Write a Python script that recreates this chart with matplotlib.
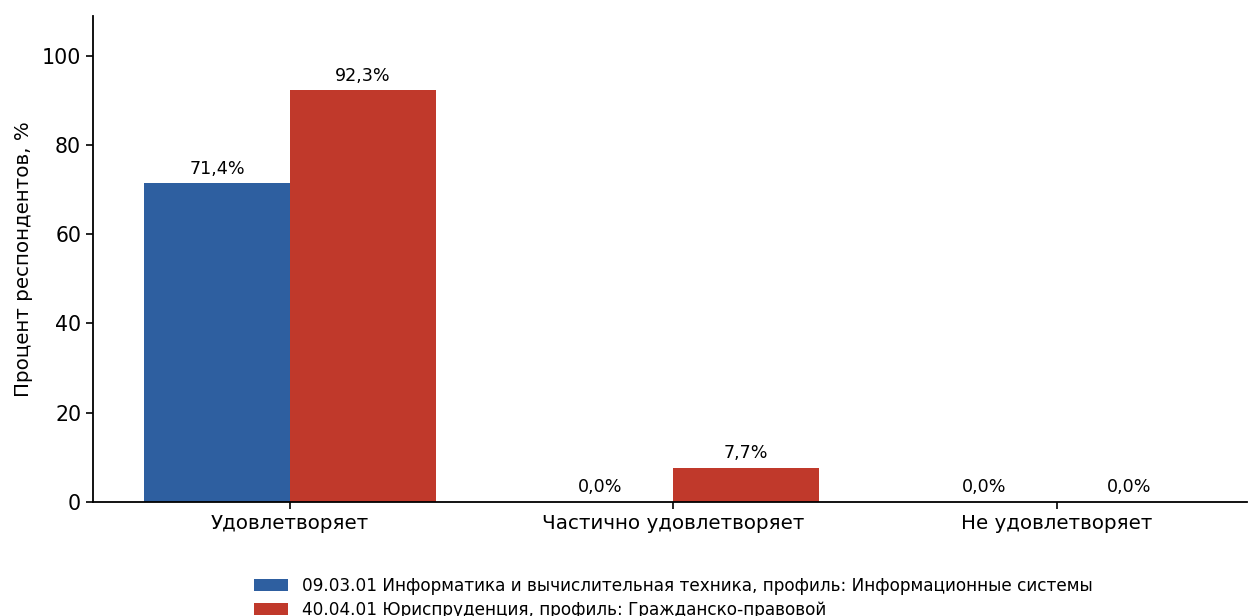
import numpy as np
import matplotlib
matplotlib.use("Agg")
import matplotlib.pyplot as plt

categories = ["Удовлетворяет", "Частично удовлетворяет", "Не удовлетворяет"]
series_names = [
    "09.03.01 Информатика и вычислительная техника, профиль: Информационные системы",
    "40.04.01 Юриспруденция, профиль: Гражданско-правовой",
]
values_it = [71.4, 0.0, 0.0]
values_law = [92.3, 7.7, 0.0]
colors = ["#2e5fa0", "#c0392b"]

fig = plt.figure(figsize=(12.49, 6.16), dpi=100)
ax = fig.add_axes([93 / 1249, 1 - 502 / 616, (1247 - 93) / 1249, (502 - 16) / 616])

x = np.arange(len(categories))
w = 0.38
b1 = ax.bar(x - w / 2, values_it, w, color=colors[0], label=series_names[0])
b2 = ax.bar(x + w / 2, values_law, w, color=colors[1], label=series_names[1])

for bars in (b1, b2):
    for r in bars:
        h = r.get_height()
        ax.annotate(f"{h:.1f}%".replace(".", ","), (r.get_x() + r.get_width() / 2, h),
                    xytext=(0, 4), textcoords="offset points",
                    ha="center", va="bottom", fontsize=12.6)

ax.set_xticks(x)
ax.set_xticklabels(categories, fontsize=14.3)
ax.tick_params(axis="y", labelsize=14.8)
ax.tick_params(width=1.2, length=5)
ax.set_ylabel("Процент респондентов, %", fontsize=14.3, labelpad=6)
ax.set_ylim(0, 108.9)
ax.set_yticks([0, 20, 40, 60, 80, 100])
ax.set_xlim(-0.514, 2.497)
ax.spines["top"].set_visible(False)
ax.spines["right"].set_visible(False)
for s in ("left", "bottom"):
    ax.spines[s].set_linewidth(1.3)

ax.legend(loc="upper center", bbox_to_anchor=(0.503, -0.122), frameon=False,
          fontsize=12.2, ncol=1, handlelength=2.0, handletextpad=0.8, labelspacing=0.4)

fig.savefig("out.png", dpi=100)
